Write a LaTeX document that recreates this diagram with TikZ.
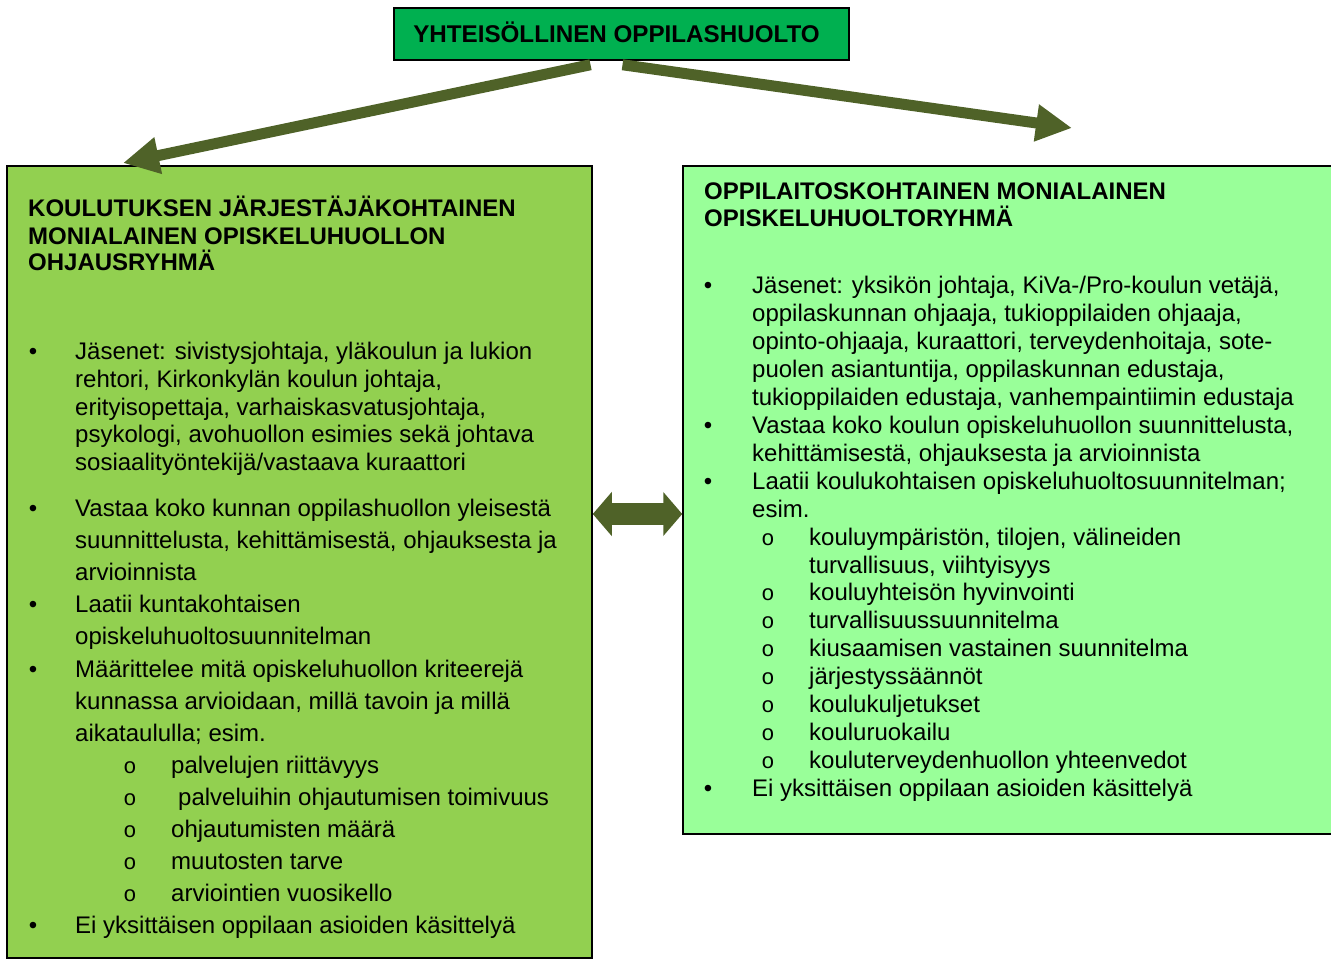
\documentclass[tikz,border=0pt]{standalone}
\usepackage{fontspec}
\setmainfont{Liberation Sans}
\newfontfamily\subfont{Liberation Mono}
\usetikzlibrary{arrows.meta}
\definecolor{topgreen}{HTML}{00B050}
\definecolor{leftgreen}{HTML}{92D050}
\definecolor{rightgreen}{HTML}{99FF99}
\definecolor{olive}{HTML}{4F6228}
\newcommand{\bodyfnt}{\fontsize{24}{27.6}\selectfont}
\tikzset{
  box/.style={draw=black, line width=1.5pt, inner sep=0pt},
  txt/.style={anchor=base west, inner sep=0pt, font=\bodyfnt},
  hdr/.style={anchor=base west, inner sep=0pt, font=\bodyfnt\bfseries},
  bul/.style={anchor=base, inner sep=0pt, font=\bodyfnt},
  subbul/.style={anchor=base, inner sep=0pt, font=\fontsize{22}{26}\subfont},
  bigarrow/.style={draw=olive, line width=11pt, -{Triangle[length=36pt,width=35pt]}},
  dblarrow/.style={draw=olive, line width=22pt, {Triangle[length=19pt,width=43pt]}-{Triangle[length=19pt,width=43pt]}}
}
\begin{document}
\begin{tikzpicture}[x=1pt,y=-1pt]
\useasboundingbox (0,0) rectangle (1331,960);
% boxes
\node[box, fill=leftgreen, minimum width=585pt, minimum height=792pt] (L) at (299.5,562) {};
\node[box, fill=rightgreen, minimum width=653pt, minimum height=668pt] (R) at (1009.5,500) {};
\node[box, fill=topgreen, minimum width=455pt, minimum height=52pt, font=\fontsize{24.2}{27.6}\selectfont\bfseries] (T) at (621.5,34) {\hspace*{-10pt}\raisebox{3pt}{YHTEISÖLLINEN OPPILASHUOLTO}};
% arrows
\coordinate (s1) at ([xshift=-31pt,yshift=-4pt]T.south);
\coordinate (e1) at (123,163);
\coordinate (s2) at ([xshift=1pt,yshift=-4pt]T.south);
\coordinate (e2) at (1072,128);
\draw[bigarrow] (s1) -- (e1);
\draw[bigarrow] (s2) -- (e2);
\coordinate (m) at (0,514);
\draw[dblarrow] (L.east |- m) -- (R.west |- m);
% left header
\node[hdr] (lh1) at (28,217) {KOULUTUKSEN JÄRJESTÄJÄKOHTAINEN};
\node[hdr] (lh2) at (28,244) {MONIALAINEN OPISKELUHUOLLON};
\node[hdr] (lh3) at (28,271) {OHJAUSRYHMÄ};
% left item 1
\node[bul] (lb1) at (33,359) {•};
\node[txt] (l11) at (75,359) {Jäsenet: sivistysjohtaja, yläkoulun ja lukion};
\node[txt] (l12) at (75,387) {rehtori, Kirkonkylän koulun johtaja,};
\node[txt] (l13) at (75,415) {erityisopettaja, varhaiskasvatusjohtaja,};
\node[txt] (l14) at (75,442) {psykologi, avohuollon esimies sekä johtava};
\node[txt] (l15) at (75,470) {sosiaalityöntekijä/vastaava kuraattori};
% left item 2
\node[bul] (lb2) at (33,516) {•};
\node[txt] (l21) at (75,516) {Vastaa koko kunnan oppilashuollon yleisestä};
\node[txt] (l22) at (75,548) {suunnittelusta, kehittämisestä, ohjauksesta ja};
\node[txt] (l23) at (75,580) {arvioinnista};
% left item 3
\node[bul] (lb3) at (33,612) {•};
\node[txt] (l31) at (75,612) {Laatii kuntakohtaisen};
\node[txt] (l32) at (75,644) {opiskeluhuoltosuunnitelman};
% left item 4
\node[bul] (lb4) at (33,677) {•};
\node[txt] (l41) at (75,677) {Määrittelee mitä opiskeluhuollon kriteerejä};
\node[txt] (l42) at (75,709) {kunnassa arvioidaan, millä tavoin ja millä};
\node[txt] (l43) at (75,741) {aikataululla; esim.};
% left sub items
\node[subbul] (ls1) at (130,773) {o};
\node[txt] (ls1t) at (171,773) {palvelujen riittävyys};
\node[subbul] (ls2) at (130,805) {o};
\node[txt] (ls2t) at (178,805) {palveluihin ohjautumisen toimivuus};
\node[subbul] (ls3) at (130,837) {o};
\node[txt] (ls3t) at (171,837) {ohjautumisten määrä};
\node[subbul] (ls4) at (130,869) {o};
\node[txt] (ls4t) at (171,869) {muutosten tarve};
\node[subbul] (ls5) at (130,901) {o};
\node[txt] (ls5t) at (171,901) {arviointien vuosikello};
% left item 5
\node[bul] (lb5) at (33,933) {•};
\node[txt] (l51) at (75,933) {Ei yksittäisen oppilaan asioiden käsittelyä};
% right header
\node[hdr] (rh1) at (704,200) {OPPILAITOSKOHTAINEN MONIALAINEN};
\node[hdr] (rh2) at (704,227) {OPISKELUHUOLTORYHMÄ};
% right main lines
\foreach \t [count=\i from 0] in {{Jäsenet: yksikön johtaja, KiVa-/Pro-koulun vetäjä,},{oppilaskunnan ohjaaja, tukioppilaiden ohjaaja,},{opinto-ohjaaja, kuraattori, terveydenhoitaja, sote-},{puolen asiantuntija, oppilaskunnan edustaja,},{tukioppilaiden edustaja, vanhempaintiimin edustaja},{Vastaa koko koulun opiskeluhuollon suunnittelusta,},{kehittämisestä, ohjauksesta ja arvioinnista},{Laatii koulukohtaisen opiskeluhuoltosuunnitelman;},{esim.}}
  \node[txt] (r\i) at (752,{294+27.9*\i}) {\t};
\node[txt] (r18) at (752,{294+27.9*18}) {Ei yksittäisen oppilaan asioiden käsittelyä};
\foreach \k [count=\j] in {0,5,7,18}
  \node[bul] (rb\j) at (708,{294+27.9*\k}) {•};
% right sub lines
\foreach \t [count=\i from 9] in {{kouluympäristön, tilojen, välineiden},{turvallisuus, viihtyisyys},{kouluyhteisön hyvinvointi},{turvallisuussuunnitelma},{kiusaamisen vastainen suunnitelma},{järjestyssäännöt},{koulukuljetukset},{kouluruokailu},{kouluterveydenhuollon yhteenvedot}}
  \node[txt] (r\i) at (809,{294+27.9*\i}) {\t};
\foreach \k [count=\j] in {9,11,12,13,14,15,16,17}
  \node[subbul] (rs\j) at (768,{294+27.9*\k}) {o};
\end{tikzpicture}
\end{document}
